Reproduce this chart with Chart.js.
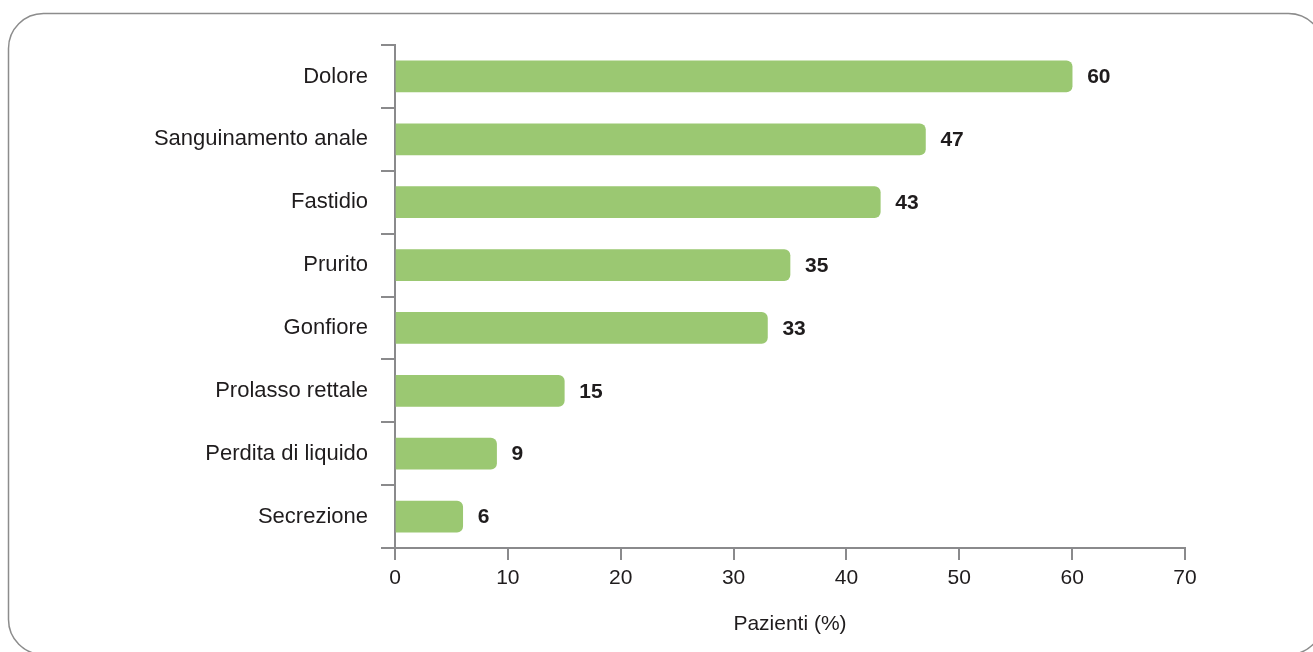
<!DOCTYPE html>
<html>
<head>
<meta charset="utf-8">
<script src="https://cdn.jsdelivr.net/npm/chart.js@4/dist/chart.umd.min.js"></script>
<style>
  html, body { margin: 0; padding: 0; background: #ffffff; }
  #wrap { position: relative; width: 1313px; height: 652px; }
  canvas { display: block; }
</style>
</head>
<body>
<div id="wrap"><canvas id="c" width="1313" height="652"></canvas></div>
<script>
const categories = ["Dolore", "Sanguinamento anale", "Fastidio", "Prurito", "Gonfiore", "Prolasso rettale", "Perdita di liquido", "Secrezione"];
const values = [60, 47, 43, 35, 33, 15, 9, 6];
const xTicks = [0, 10, 20, 30, 40, 50, 60, 70];
const xTitle = "Pazienti (%)";

const FONT = "'Liberation Sans', Arial, Helvetica, sans-serif";
const TEXT = "#1f1c1d";
const AXIS = "#8a8a8c";
const GREEN = "#9bc872";

const frame = {
  id: "frame",
  beforeDraw(chart) {
    const ctx = chart.ctx;
    ctx.save();
    ctx.fillStyle = "#ffffff";
    ctx.fillRect(0, 0, chart.width, chart.height);
    ctx.strokeStyle = "#8c8c8c";
    ctx.lineWidth = 1.5;
    ctx.beginPath();
    ctx.roundRect(8.5, 13.5, 1315, 641, 35);
    ctx.stroke();
    ctx.restore();
  }
};

const valueLabels = {
  id: "valueLabels",
  afterDatasetsDraw(chart) {
    const ctx = chart.ctx;
    const meta = chart.getDatasetMeta(0);
    ctx.save();
    ctx.font = "bold 21px " + FONT;
    ctx.fillStyle = TEXT;
    ctx.textAlign = "left";
    ctx.textBaseline = "middle";
    meta.data.forEach((bar, i) => {
      ctx.fillText(String(values[i]), bar.x + 15, bar.y + 1);
    });
    ctx.restore();
  }
};

new Chart(document.getElementById("c"), {
  type: "bar",
  data: {
    labels: categories,
    datasets: [{
      data: values,
      backgroundColor: GREEN,
      borderWidth: 0,
      borderRadius: 6,
      borderSkipped: "start",
      barThickness: 31
    }]
  },
  options: {
    indexAxis: "y",
    responsive: false,
    animation: false,
    devicePixelRatio: 1,
    layout: { padding: { left: 0, right: 128, top: 45, bottom: 0 } },
    plugins: {
      legend: { display: false },
      tooltip: { enabled: false }
    },
    scales: {
      x: {
        type: "linear",
        min: 0,
        max: 70,
        afterFit(s) { s.height = 104; },
        afterBuildTicks(s) { s.ticks = xTicks.map(v => ({ value: v })); },
        border: { display: true, color: AXIS, width: 2 },
        grid: { drawOnChartArea: false, drawTicks: true, tickLength: 12, color: AXIS, lineWidth: 2 },
        ticks: { color: TEXT, font: { family: FONT, size: 21 }, padding: 6 },
        title: { display: true, text: xTitle, color: TEXT, font: { family: FONT, size: 21 }, padding: { top: 0, bottom: 15 } }
      },
      y: {
        afterFit(s) { s.width = 395; },
        border: { display: true, color: AXIS, width: 2 },
        grid: { offset: true, drawOnChartArea: false, drawTicks: true, tickLength: 14, color: AXIS, lineWidth: 2 },
        ticks: { color: TEXT, font: { family: FONT, size: 22 }, padding: 13 }
      }
    }
  },
  plugins: [frame, valueLabels]
});
</script>
</body>
</html>
